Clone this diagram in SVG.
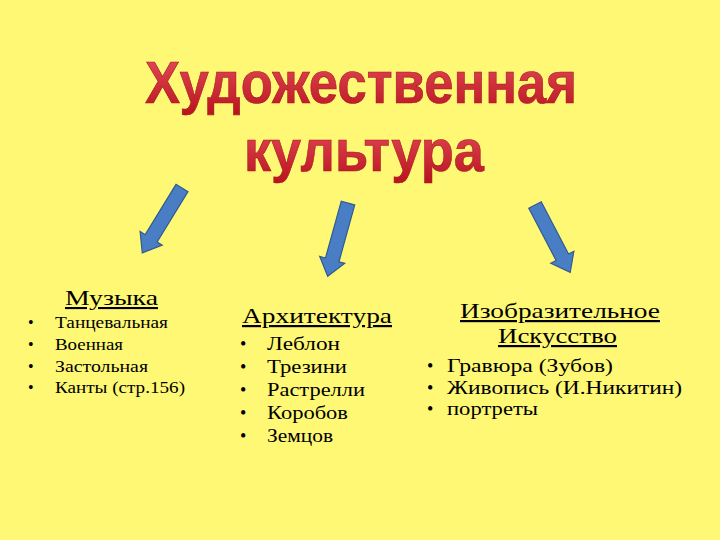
<svg xmlns="http://www.w3.org/2000/svg" width="720" height="540" viewBox="0 0 720 540">
<defs>
<linearGradient id="tg" x1="0" y1="0" x2="0" y2="1">
<stop offset="0" stop-color="#E8505C"/>
<stop offset="1" stop-color="#B8121E"/>
</linearGradient>
<path id="arr" d="M0,-7 L59,-7 L59,-13 L76,0 L59,13 L59,7 L0,7 Z"/>
<style>
.title{font-family:"Liberation Sans",Arial,sans-serif;font-weight:bold;font-size:59px;fill:url(#tg);stroke:#A01822;stroke-width:0.6;text-anchor:middle}
.hd{font-family:"Liberation Serif","DejaVu Serif",serif;fill:#000;text-decoration:underline}
.it{font-family:"Liberation Serif","DejaVu Serif",serif;fill:#000}
.a{fill:#4A7EC4;stroke:#2F5A93;stroke-width:1.2}
</style>
</defs>
<rect width="720" height="540" fill="#FFF875"/>
<g id="title">
<text class="title" x="361" y="103" textLength="432" lengthAdjust="spacingAndGlyphs">Художественная</text>
<text class="title" x="364" y="171" textLength="240" lengthAdjust="spacingAndGlyphs">культура</text>
</g>
<g id="connectors">
<use href="#arr" class="a" transform="translate(182,188) rotate(121.5)"/>
<use href="#arr" class="a" transform="translate(348,203) rotate(105.5)"/>
<use href="#arr" class="a" transform="translate(535,205) rotate(62.4)"/>
</g>
<g id="music">
<text class="hd" x="65" y="305" font-size="21" textLength="93" lengthAdjust="spacingAndGlyphs">Музыка</text>
<g class="it" font-size="16">
<text x="28" y="328">•</text><text x="55" y="328" textLength="113" lengthAdjust="spacingAndGlyphs">Танцевальная</text>
<text x="28" y="350">•</text><text x="55" y="350" textLength="68" lengthAdjust="spacingAndGlyphs">Военная</text>
<text x="28" y="372">•</text><text x="55" y="372" textLength="93" lengthAdjust="spacingAndGlyphs">Застольная</text>
<text x="28" y="393">•</text><text x="55" y="393" textLength="130" lengthAdjust="spacingAndGlyphs">Канты (стр.156)</text>
</g>
</g>
<g id="architecture">
<text class="hd" x="242" y="323" font-size="22" textLength="150" lengthAdjust="spacingAndGlyphs">Архитектура</text>
<g class="it" font-size="18">
<text x="240" y="350">•</text><text x="267" y="350" textLength="73" lengthAdjust="spacingAndGlyphs">Леблон</text>
<text x="240" y="373">•</text><text x="267" y="373" textLength="80" lengthAdjust="spacingAndGlyphs">Трезини</text>
<text x="240" y="396">•</text><text x="267" y="396" textLength="98" lengthAdjust="spacingAndGlyphs">Растрелли</text>
<text x="240" y="419">•</text><text x="267" y="419" textLength="81" lengthAdjust="spacingAndGlyphs">Коробов</text>
<text x="240" y="442">•</text><text x="267" y="442" textLength="66" lengthAdjust="spacingAndGlyphs">Земцов</text>
</g>
</g>
<g id="fine-art">
<text class="hd" x="460" y="318" font-size="22" textLength="200" lengthAdjust="spacingAndGlyphs">Изобразительное</text>
<text class="hd" x="498" y="343" font-size="22" textLength="119" lengthAdjust="spacingAndGlyphs">Искусство</text>
<g class="it" font-size="18">
<text x="427" y="372">•</text><text x="447" y="372" textLength="166" lengthAdjust="spacingAndGlyphs">Гравюра (Зубов)</text>
<text x="427" y="394">•</text><text x="447" y="394" textLength="235" lengthAdjust="spacingAndGlyphs">Живопись (И.Никитин)</text>
<text x="427" y="415">•</text><text x="447" y="415" textLength="91" lengthAdjust="spacingAndGlyphs">портреты</text>
</g>
</g>
</svg>
